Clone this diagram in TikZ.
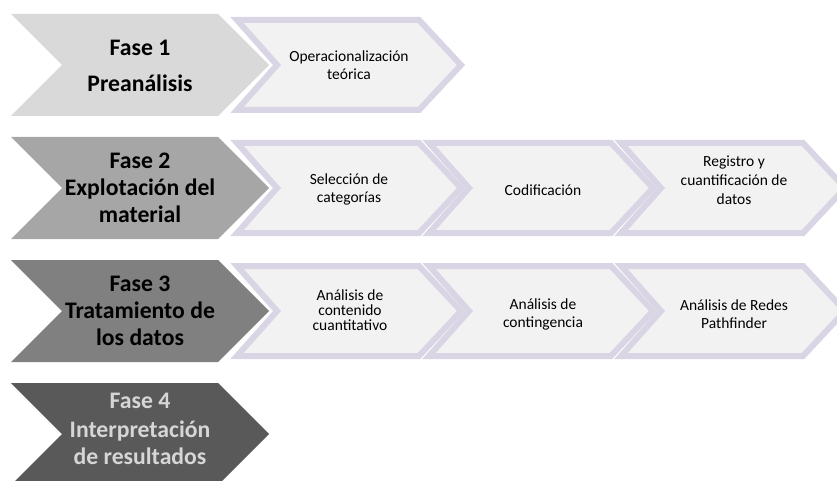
\documentclass[tikz,border=0pt]{standalone}
\usepackage{fontspec}
\setmainfont{Carlito}
\definecolor{faseA}{RGB}{217,217,217}
\definecolor{faseB}{RGB}{166,166,166}
\definecolor{faseC}{RGB}{128,128,128}
\definecolor{faseD}{RGB}{89,89,89}
\definecolor{faseDtext}{RGB}{214,214,214}
\definecolor{subfill}{RGB}{242,242,242}
\definecolor{subline}{RGB}{217,213,229}
\newcommand\BigChev[2]{%
  \fill[#2] (11,{#1-51}) -- (218,{#1-51}) -- (269,#1) -- (218,{#1+51}) -- (11,{#1+51}) -- (62,#1) -- cycle;}
\newcommand\SubChev[2]{%
  \filldraw[subchev] (#1,{#2-45}) -- ({#1+182},{#2-45}) -- ({#1+224},#2) -- ({#1+182},{#2+45}) -- (#1,{#2+45}) -- ({#1+40},#2) -- cycle;}
\begin{document}
\begin{tikzpicture}[x=1pt,y=-1pt,
  subchev/.style={fill=subfill,draw=subline,line width=6pt,line join=miter},
  phase/.style={align=center,inner sep=0pt,font=\fontsize{23.7}{27}\selectfont\bfseries,text=black},
  subtext/.style={align=center,inner sep=0pt,font=\fontsize{15.5}{18}\selectfont,text=black}]
\useasboundingbox (0,0) rectangle (837,481);
\clip (0,0) rectangle (837,481);
% phase chevrons
\BigChev{65}{faseA}
\BigChev{188}{faseB}
\BigChev{311}{faseC}
\BigChev{434}{faseD}
% sub chevrons
\SubChev{237}{65}
\SubChev{237}{188}
\SubChev{429}{188}
\SubChev{621}{188}
\SubChev{237}{311}
\SubChev{429}{311}
\SubChev{621}{311}
% phase texts
\node[phase] (f1) at (140,65.6) {Fase 1\\[9pt]Preanálisis};
\node[phase] (f2) at (140,188) {Fase 2\\Explotación del\\material};
\node[phase] (f3) at (140,311) {Fase 3\\Tratamiento de\\los datos};
\node[phase,text=faseDtext] (f4) at (140,429) {Fase 4\\[2pt]Interpretación\\de resultados};
% sub texts
\node[subtext] (s11) at (349,65) {Operacionalización\\teórica};
\node[subtext] (s21) at (349,189) {Selección de\\categorías};
\node[subtext] (s22) at (543,190) {Codificación};
\node[subtext,font=\fontsize{15.5}{19}\selectfont] (s23) at (734,180) {Registro y\\cuantificación de\\datos};
\node[subtext,font=\fontsize{15.5}{15.3}\selectfont] (s31) at (350,310) {Análisis de\\contenido\\cuantitativo};
\node[subtext] (s32) at (543,314) {Análisis de\\contingencia};
\node[subtext] (s33) at (734,314) {Análisis de Redes\\Pathfinder};
\end{tikzpicture}
\end{document}
